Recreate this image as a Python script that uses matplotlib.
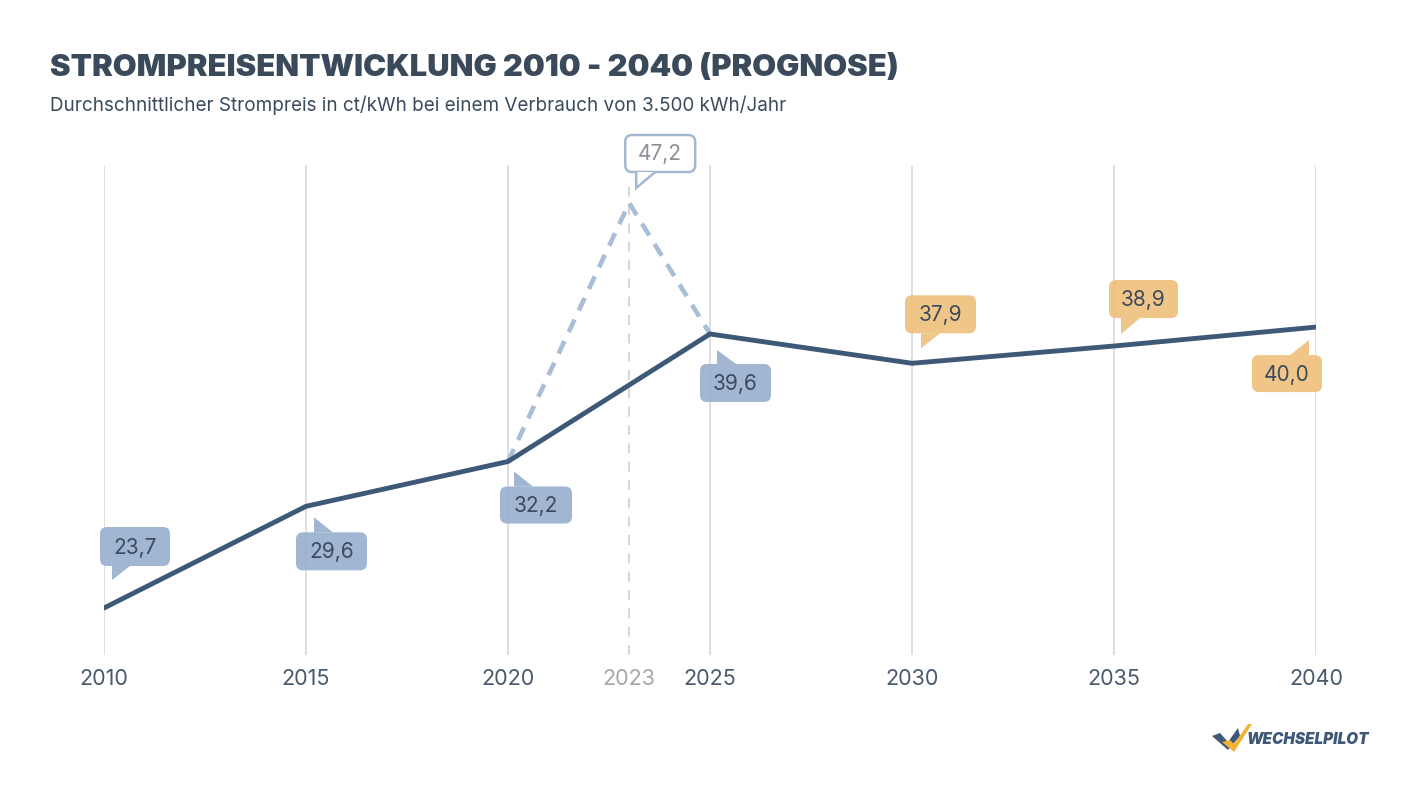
import matplotlib
matplotlib.use("Agg")
import matplotlib.pyplot as plt
import matplotlib.transforms as mtransforms
from matplotlib.patches import FancyBboxPatch, Polygon

plt.rcParams['font.family'] = ['Inter', 'DejaVu Sans']

# data
years = [2010, 2015, 2020, 2025, 2030, 2035, 2040]
prices = [23.7, 29.6, 32.2, 39.6, 37.9, 38.9, 40.0]
peak_years = [2020, 2023, 2025]
peak_prices = [32.2, 47.2, 39.6]
tick_years = [2010, 2015, 2020, 2023, 2025, 2030, 2035, 2040]
labels = ["23,7", "29,6", "32,2", "39,6", "37,9", "38,9", "40,0"]
prognose = [False, False, False, False, True, True, True]

DARK = "#3e5877"
TEXT = "#3b4b5d"
BLUE_BOX = "#98b0cf"
ORANGE_BOX = "#efc07e"
LIGHT = "#a9bdd6"

W, H = 1423, 800
fig = plt.figure(figsize=(W / 100, H / 100), dpi=100)
# axes placed in pixels: x 104..1316, y 165..655
ax = fig.add_axes([104 / W, (H - 655) / H, (1316 - 104) / W, (655 - 165) / H])
px_per_unit = (608 - 203) / (47.2 - 23.7)
ymin = 23.7 - (655 - 608) / px_per_unit
ymax = 47.2 + (203 - 165) / px_per_unit
ax.set_xlim(2010, 2040)
ax.set_ylim(ymin, ymax)
for s in ax.spines.values():
    s.set_visible(False)
ax.set_yticks([])

# grid lines
for yr in years:
    ax.axvline(yr, color="#d8d8d8", lw=1.2, zorder=0)
ax.axvline(2023, ymax=(655 - 185) / (655 - 165),
           color="#d0d0d0", lw=1.2, ls=(0, (6, 5)), zorder=0)

ax.plot(peak_years, peak_prices, color=LIGHT, lw=3.3, ls=(0, (3, 2.2)),
        solid_capstyle='round', zorder=2)
ax.plot(years, prices, color=DARK, lw=3.5, solid_capstyle='round',
        solid_joinstyle='round', zorder=3)

ax.set_xticks(tick_years)
ax.set_xticklabels([str(y) for y in tick_years], fontsize=15.5, color="#48596b")
ax.tick_params(axis='x', length=0, pad=10)
ax.get_xticklabels()[3].set_color("#a2a6ab")

# bubble geometry in pixels relative to the point (y down): box and tail
boxes = [(-4, -81, 70, 39), (-10, 26, 71, 38), (-8, 25, 72, 37), (-10, 30, 71, 38),
         (-7, -68, 71, 38), (-5, -66, 69, 38), (-64, 28, 70, 37)]
tails = [[(8, -42), (26, -42), (8, -28)], [(8, 26), (27, 26), (8, 11)],
         [(6, 25), (25, 25), (6, 10)], [(7, 30), (26, 30), (7, 16)],
         [(9, -30), (28, -30), (9, -15)], [(7, -28), (26, -28), (7, -12)],
         [(-7, 28), (-26, 28), (-7, 13)]]


def bubble(x, y, text, box, tail, face, edge=None, tcolor=TEXT):
    tr = mtransforms.Affine2D().scale(1, -1) + mtransforms.ScaledTranslation(x, y, ax.transData)
    bx, by, bw, bh = box
    if edge is None:
        p = FancyBboxPatch((bx, by), bw, bh, boxstyle="round,pad=0,rounding_size=7",
                           fc=face, ec="none", alpha=0.92, transform=tr, zorder=4, clip_on=False)
        t = Polygon(tail, closed=True, fc=face, ec="none", alpha=0.92, transform=tr,
                    zorder=4, clip_on=False)
    else:
        p = FancyBboxPatch((bx + 1, by + 1), bw - 2, bh - 2, boxstyle="round,pad=0,rounding_size=7",
                           fc=face, ec=edge, lw=1.8, transform=tr, zorder=4, clip_on=False)
        t = Polygon(tail, closed=False, fc=face, ec=edge, lw=1.8, transform=tr,
                    zorder=5, clip_on=False)
    ax.add_patch(p)
    ax.add_patch(t)
    ax.text(bx + bw / 2, by + bh / 2 + 1, text, transform=tr, ha='center', va='center',
            fontsize=15, color=tcolor, zorder=6)


for yr, pr, lab, b, tl, prog in zip(years, prices, labels, boxes, tails, prognose):
    bubble(yr, pr, lab, b, tl, ORANGE_BOX if prog else BLUE_BOX)

bubble(2023, 47.2, "47,2", (-5, -69, 72, 39), [(7, -31), (7, -15), (26, -31)],
       "white", edge="#a3b8d0", tcolor="#8b9097")

fig.text(50 / W, 1 - 68 / H, "STROMPREISENTWICKLUNG 2010 - 2040 (PROGNOSE)",
         fontsize=22.3, fontweight='black', color="#3b4a5b", va='center')
fig.text(50 / W, 1 - 105 / H,
         "Durchschnittlicher Strompreis in ct/kWh bei einem Verbrauch von 3.500 kWh/Jahr",
         fontsize=13.6, color="#3b4b5d", va='center')

# logo
fig.patches.append(Polygon([(1212 / W, 1 - 736 / H), (1220 / W, 1 - 733 / H), (1228 / W, 1 - 742 / H),
                            (1238 / W, 1 - 728 / H), (1240 / W, 1 - 736 / H), (1228 / W, 1 - 750 / H)],
                           closed=True, fc="#3e5877", ec="none", transform=fig.transFigure))
fig.patches.append(Polygon([(1222 / W, 1 - 742 / H), (1230 / W, 1 - 740 / H), (1234 / W, 1 - 744 / H),
                            (1248 / W, 1 - 724 / H), (1252 / W, 1 - 724 / H), (1234 / W, 1 - 752 / H)],
                           closed=True, fc="#f2b233", ec="none", transform=fig.transFigure))
fig.text(1246 / W, 1 - 740 / H, "WECHSELPILOT", fontsize=11, fontweight='black',
         style='italic', color="#3e5877", va='center')

fig.savefig("out.png", dpi=100)
